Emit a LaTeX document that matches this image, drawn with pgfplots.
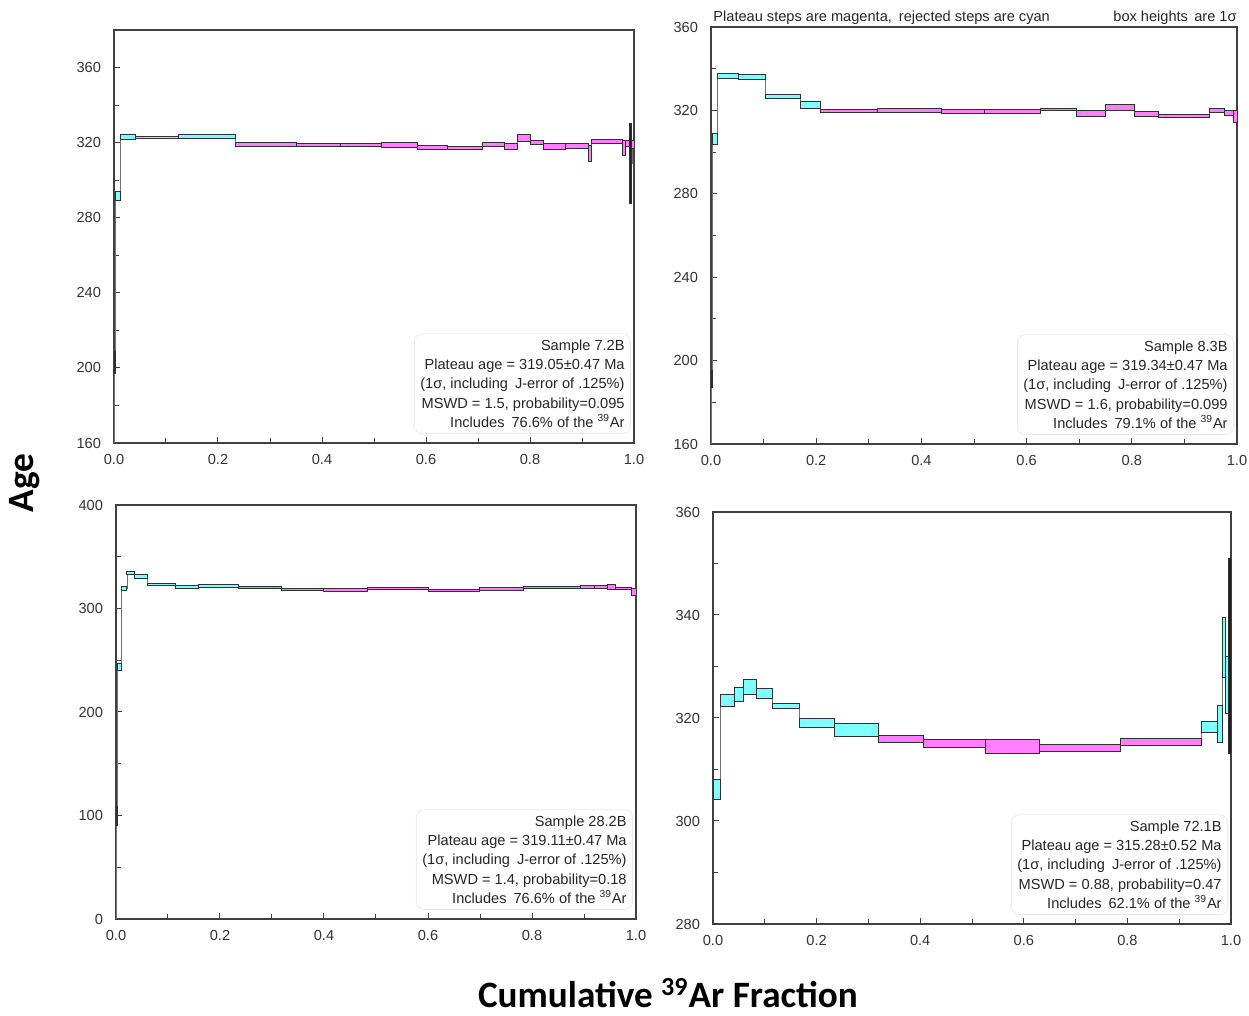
\documentclass[border=0pt]{standalone}
\usepackage{fontspec}
\setmainfont{Liberation Sans}
\newfontfamily\calibri{Carlito}
\usepackage{pgfplots}
\pgfplotsset{compat=1.18}

\definecolor{cy}{HTML}{80FFFF}
\definecolor{mg}{HTML}{FF80FF}
\definecolor{edge}{HTML}{303030}
\definecolor{dk}{HTML}{202020}

% one heating step: x from, x to, age low, age high, colour
\newcommand{\stepbox}[5]{\addplot[fill=#5, draw=edge, line width=0.45pt] coordinates {(#1,#3) (#1,#4) (#2,#4) (#2,#3)} -- cycle;}

\tikzset{
  infobox/.style={anchor=south east, align=right, fill=white, draw=black!8,
    rounded corners=4pt, inner sep=3pt, xshift=-1.5pt, yshift=4.5pt,
    font=\fontsize{7.3}{9.65}\selectfont, text=black!85},
}
\pgfplotsset{
  agebox/.style={
    scale only axis,
    xmin=0, xmax=1,
    xtick={0,0.2,0.4,0.6,0.8,1},
    minor x tick num=1,
    minor y tick num=1,
    tick align=inside,
    tick pos=left,
    major tick length=3pt,
    minor tick length=2.5pt,
    axis line style={draw=black!75, line width=0.6pt},
    tick style={draw=black!75, line width=0.5pt},
    ticklabel style={font=\fontsize{7.3}{9}\selectfont, text=black!80},
    /pgf/number format/assume math mode=true,
    xticklabel style={yshift=-2pt, /pgf/number format/.cd, fixed, fixed zerofill, precision=1},
    yticklabel style={xshift=-3pt},
  },
  joiner/.style={const plot mark left, draw=black!55, line width=0.4pt},
}

\begin{document}
\begin{tikzpicture}
\path[use as bounding box] (0,0) rectangle (624.5pt,508pt);

% ---------------- Sample 7.2B ----------------
\begin{axis}[agebox, at={(57pt,286.5pt)}, anchor=south west,
  width=260pt, height=206.5pt, ymin=160, ymax=380, ytick={160,200,...,360}]
\addplot[joiner] coordinates {(0,150) (0,203.1) (0.003,291.5) (0.012,323.05) (0.042,322.7)
  (0.124,323.05) (0.234,318.85) (0.350,318.7) (0.436,318.7) (0.515,318.7) (0.584,317.35)
  (0.642,317.05) (0.708,319.1) (0.750,318.05) (0.776,322.25) (0.801,320.15) (0.825,317.95)
  (0.869,318.3) (0.912,314.25) (0.919,320.8) (0.977,317.1) (0.983,319.6) (0.992,308.75)
  (0.997,319.0) (1.0,319.0)};
\stepbox{0.000}{0.003}{197.3}{208.9}{cy}
\stepbox{0.003}{0.012}{289.1}{293.9}{cy}
\stepbox{0.012}{0.042}{321.8}{324.3}{cy}
\stepbox{0.042}{0.124}{322.0}{323.4}{cy}
\stepbox{0.124}{0.234}{322.0}{324.1}{cy}
\stepbox{0.234}{0.350}{317.7}{320.0}{mg}
\stepbox{0.350}{0.436}{317.9}{319.5}{mg}
\stepbox{0.436}{0.515}{317.9}{319.5}{mg}
\stepbox{0.515}{0.584}{317.2}{320.2}{mg}
\stepbox{0.584}{0.642}{316.3}{318.4}{mg}
\stepbox{0.642}{0.708}{316.1}{318.0}{mg}
\stepbox{0.708}{0.750}{318.0}{320.2}{mg}
\stepbox{0.750}{0.776}{316.6}{319.5}{mg}
\stepbox{0.776}{0.801}{320.4}{324.1}{mg}
\stepbox{0.801}{0.825}{319.1}{321.2}{mg}
\stepbox{0.825}{0.869}{316.6}{319.3}{mg}
\stepbox{0.869}{0.912}{317.0}{319.6}{mg}
\stepbox{0.912}{0.919}{310.0}{318.5}{mg}
\stepbox{0.919}{0.977}{319.8}{321.8}{mg}
\stepbox{0.977}{0.983}{313.0}{321.2}{mg}
\stepbox{0.983}{0.992}{318.0}{321.2}{mg}
\stepbox{0.992}{0.996}{287.5}{330.0}{dk}
\stepbox{0.996}{1.000}{317.0}{321.0}{mg}
\node[infobox] at (rel axis cs:1,0) {Sample 7.2B\\
  Plateau age = 319.05±0.47 Ma\\
  (1σ, including\hspace{0.2em} J-error of .125\%)\\
  MSWD = 1.5, probability=0.095\\
  Includes\hspace{0.2em} 76.6\% of the \textsuperscript{39}Ar};
\end{axis}

% ---------------- Sample 8.3B ----------------
\begin{axis}[agebox, at={(355.5pt,286pt)}, anchor=south west,
  width=263pt, height=208.5pt, ymin=160, ymax=360, ytick={160,200,...,360}]
\addplot[joiner] coordinates {(0,150) (0,191.2) (0.003,306.3) (0.013,336.5) (0.053,335.9)
  (0.104,326.85) (0.170,322.55) (0.208,319.6) (0.316,319.85) (0.438,319.55) (0.519,319.5)
  (0.626,320.45) (0.695,318.45) (0.749,321.45) (0.805,318.3) (0.851,317.35) (0.947,320.05)
  (0.977,318.8) (0.993,317.1) (1.0,317.1)};
\stepbox{0.000}{0.003}{187.2}{195.2}{dk}
\stepbox{0.003}{0.013}{303.5}{309.1}{cy}
\stepbox{0.013}{0.053}{335.2}{337.8}{cy}
\stepbox{0.053}{0.104}{334.7}{337.1}{cy}
\stepbox{0.104}{0.170}{325.9}{327.8}{cy}
\stepbox{0.170}{0.208}{320.8}{324.3}{cy}
\stepbox{0.208}{0.316}{318.9}{320.3}{mg}
\stepbox{0.316}{0.438}{318.9}{320.8}{mg}
\stepbox{0.438}{0.519}{318.6}{320.5}{mg}
\stepbox{0.519}{0.626}{318.7}{320.3}{mg}
\stepbox{0.626}{0.695}{319.8}{321.1}{mg}
\stepbox{0.695}{0.749}{317.1}{319.8}{mg}
\stepbox{0.749}{0.805}{320.0}{322.9}{mg}
\stepbox{0.805}{0.851}{317.1}{319.5}{mg}
\stepbox{0.851}{0.947}{316.6}{318.1}{mg}
\stepbox{0.947}{0.977}{319.0}{321.1}{mg}
\stepbox{0.977}{0.993}{317.8}{319.8}{mg}
\stepbox{0.993}{1.000}{314.2}{320.0}{mg}
\node[infobox] at (rel axis cs:1,0) {Sample 8.3B\\
  Plateau age = 319.34±0.47 Ma\\
  (1σ, including\hspace{0.2em} J-error of .125\%)\\
  MSWD = 1.6, probability=0.099\\
  Includes\hspace{0.2em} 79.1\% of the \textsuperscript{39}Ar};
\end{axis}

% ---------------- Sample 28.2B ----------------
\begin{axis}[agebox, at={(58pt,48.5pt)}, anchor=south west,
  width=260pt, height=207pt, ymin=0, ymax=400, ytick={0,100,200,300,400}]
\addplot[joiner] coordinates {(0,-20) (0,99.5) (0.003,243.7) (0.010,319.2) (0.021,333.95)
  (0.036,331.05) (0.061,323.05) (0.115,320.45) (0.158,321.75) (0.235,320.3) (0.318,318.2)
  (0.398,317.7) (0.484,319.0) (0.600,317.55) (0.699,318.85) (0.783,319.95) (0.893,320.75)
  (0.920,320.6) (0.946,320.45) (0.960,319.3) (0.992,316.1) (1.0,316.1)};
\stepbox{0.000}{0.003}{90.6}{108.4}{cy}
\stepbox{0.003}{0.010}{240.3}{247.1}{cy}
\stepbox{0.010}{0.021}{317.1}{321.3}{cy}
\stepbox{0.021}{0.036}{332.5}{335.4}{cy}
\stepbox{0.036}{0.061}{329.3}{332.8}{cy}
\stepbox{0.061}{0.115}{321.9}{324.2}{cy}
\stepbox{0.115}{0.158}{319.0}{321.9}{cy}
\stepbox{0.158}{0.235}{320.3}{323.2}{cy}
\stepbox{0.235}{0.318}{319.0}{321.6}{mg}
\stepbox{0.318}{0.398}{317.1}{319.3}{mg}
\stepbox{0.398}{0.484}{316.1}{319.3}{mg}
\stepbox{0.484}{0.600}{318.0}{320.0}{mg}
\stepbox{0.600}{0.699}{316.4}{318.7}{mg}
\stepbox{0.699}{0.783}{317.7}{320.0}{mg}
\stepbox{0.783}{0.893}{319.0}{320.9}{mg}
\stepbox{0.893}{0.920}{319.0}{322.5}{mg}
\stepbox{0.920}{0.946}{319.0}{322.2}{mg}
\stepbox{0.946}{0.960}{318.0}{322.9}{mg}
\stepbox{0.960}{0.992}{318.0}{320.6}{mg}
\stepbox{0.992}{1.000}{312.9}{319.3}{mg}
\node[infobox] at (rel axis cs:1,0) {Sample 28.2B\\
  Plateau age = 319.11±0.47 Ma\\
  (1σ, including\hspace{0.2em} J-error of .125\%)\\
  MSWD = 1.4, probability=0.18\\
  Includes\hspace{0.2em} 76.6\% of the \textsuperscript{39}Ar};
\end{axis}

% ---------------- Sample 72.1B ----------------
\begin{axis}[agebox, at={(356.5pt,46pt)}, anchor=south west,
  width=259pt, height=206pt, ymin=280, ymax=360, ytick={280,300,...,360}]
\addplot[joiner] coordinates {(0,306.15) (0.015,323.4) (0.041,324.6) (0.059,326.0)
  (0.083,324.8) (0.114,322.35) (0.166,319.05) (0.235,317.75) (0.320,316.0) (0.407,315.05)
  (0.525,314.5) (0.631,314.25) (0.787,315.4) (0.943,318.25) (0.974,318.85) (0.984,333.75)
  (0.990,326.45) (0.996,332.05) (1.0,332.05)};
\stepbox{0.000}{0.015}{304.2}{308.1}{cy}
\stepbox{0.015}{0.041}{322.3}{324.5}{cy}
\stepbox{0.041}{0.059}{323.3}{325.9}{cy}
\stepbox{0.059}{0.083}{324.6}{327.4}{cy}
\stepbox{0.083}{0.114}{323.8}{325.8}{cy}
\stepbox{0.114}{0.166}{321.8}{322.9}{cy}
\stepbox{0.166}{0.235}{318.2}{319.9}{cy}
\stepbox{0.235}{0.320}{316.5}{319.0}{cy}
\stepbox{0.320}{0.407}{315.3}{316.7}{mg}
\stepbox{0.407}{0.525}{314.3}{315.8}{mg}
\stepbox{0.525}{0.631}{313.2}{315.8}{mg}
\stepbox{0.631}{0.787}{313.6}{314.9}{mg}
\stepbox{0.787}{0.943}{314.7}{316.1}{mg}
\stepbox{0.943}{0.974}{317.2}{319.3}{cy}
\stepbox{0.974}{0.984}{315.2}{322.5}{cy}
\stepbox{0.984}{0.990}{327.9}{339.6}{cy}
\stepbox{0.990}{0.996}{320.9}{332.0}{cy}
\stepbox{0.996}{1.000}{313.1}{351.0}{dk}
\node[infobox] at (rel axis cs:1,0) {Sample 72.1B\\
  Plateau age = 315.28±0.52 Ma\\
  (1σ, including\hspace{0.2em} J-error of .125\%)\\
  MSWD = 0.88, probability=0.47\\
  Includes\hspace{0.2em} 62.1\% of the \textsuperscript{39}Ar};
\end{axis}

\node[anchor=base west, inner sep=0pt, font=\fontsize{7.3}{9}\selectfont, text=black!85] at (356.5pt,497pt)
  {Plateau steps are magenta,\hspace{0.2em} rejected steps are cyan};
\node[anchor=base east, inner sep=0pt, font=\fontsize{7.3}{9}\selectfont, text=black!85] at (618.5pt,497pt)
  {box heights\hspace{0.15em} are 1σ};
\node[rotate=90, inner sep=0pt, font=\calibri\bfseries\fontsize{18.6}{22}\selectfont] at (12.5pt,266.5pt) {Age};
\node[anchor=base, inner sep=0pt, font=\calibri\bfseries\fontsize{18.6}{22}\selectfont] at (334pt,4pt)
  {Cumulative \textsuperscript{39}Ar Fraction};
\end{tikzpicture}
\end{document}
